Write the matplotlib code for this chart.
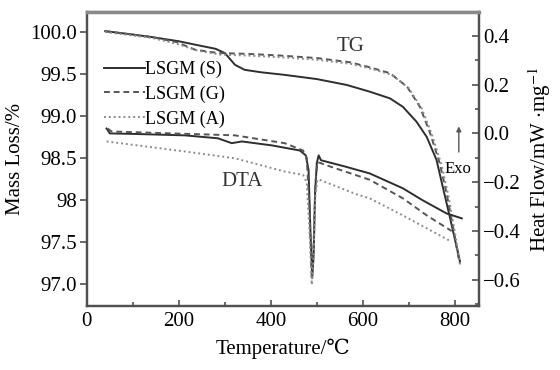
import numpy as np
import matplotlib
matplotlib.use('Agg')
import matplotlib.pyplot as plt

plt.rcParams['font.family'] = ['Liberation Serif', 'DejaVu Serif']
plt.rcParams['mathtext.fontset'] = 'stix'

# TG curves (left axis, mass %)
T_tg_S = [40, 100, 141, 200, 235, 280, 300, 322, 343, 380, 430, 500, 565, 615, 659, 687, 717, 739, 760, 774, 789, 811]
tg_S = [100.01, 99.97, 99.94, 99.89, 99.85, 99.80, 99.75, 99.61, 99.55, 99.52, 99.49, 99.44, 99.37, 99.29,
        99.21, 99.11, 98.93, 98.75, 98.48, 98.15, 97.80, 97.27]

T_tg_G = [40, 141, 195, 235, 285, 350, 420, 500, 572, 615, 659, 696, 724, 746, 767, 782, 796, 810]
tg_G = [100.01, 99.94, 99.88, 99.79, 99.75, 99.74, 99.72, 99.69, 99.64, 99.58, 99.51, 99.35, 99.11,
        98.80, 98.44, 98.08, 97.68, 97.25]

T_tg_A = [40, 141, 195, 240, 290, 350, 420, 500, 575, 620, 663, 700, 728, 750, 771, 786, 799, 812]
tg_A = [100.00, 99.93, 99.86, 99.78, 99.73, 99.72, 99.70, 99.67, 99.62, 99.56, 99.49, 99.33, 99.09,
        98.78, 98.42, 98.05, 97.65, 97.22]

# DTA curves (right axis, mW/mg)
T_dta_S = [43, 50, 100, 213, 285, 315, 337, 402, 463, 476, 482, 486, 490, 493, 496, 500, 504, 509, 560, 615, 687, 730, 782, 815]
dta_S = [0.02, 0.0, -0.002, -0.008, -0.02, -0.04, -0.033, -0.049, -0.07, -0.09, -0.15, -0.40, -0.59,
         -0.50, -0.25, -0.12, -0.09, -0.11, -0.135, -0.164, -0.225, -0.274, -0.328, -0.348]

T_dta_G = [45, 54, 185, 322, 430, 470, 478, 484, 489, 493, 497, 501, 506, 520, 615, 687, 739, 793]
dta_G = [0.02, 0.008, 0.0, -0.008, -0.04, -0.07, -0.10, -0.30, -0.60, -0.45, -0.20, -0.12, -0.12,
         -0.13, -0.19, -0.266, -0.336, -0.40]

T_dta_A = [43, 213, 322, 430, 470, 478, 484, 489, 493, 497, 501, 506, 587, 615, 687, 789]
dta_A = [-0.033, -0.074, -0.102, -0.156, -0.17, -0.20, -0.40, -0.62, -0.50, -0.25, -0.19, -0.19,
         -0.25, -0.266, -0.336, -0.44]

left_ticks = [97.0, 97.5, 98.0, 98.5, 99.0, 99.5, 100.0]
left_labels = ['97.0', '97.5', '98', '98.5', '99.0', '99.5', '100.0']
right_ticks = [-0.6, -0.4, -0.2, 0.0, 0.2, 0.4]
right_labels = ['\u22120.6', '\u22120.4', '\u22120.2', '0.0', '0.2', '0.4']

c_s, c_g, c_a = '#2e2e2e', '#555555', '#8c8c8c'
spine_c = '#505050'

fig = plt.figure(figsize=(5.6, 3.7), dpi=100)
ax = fig.add_axes([0.155, 0.173, 0.70, 0.795])
ax2 = ax.twinx()

ax.plot(T_tg_S, tg_S, color=c_s, lw=1.4, ls='-', label='LSGM (S)')
ax.plot(T_tg_G, tg_G, color=c_g, lw=1.4, ls=(0, (3, 2)), label='LSGM (G)')
ax.plot(T_tg_A, tg_A, color=c_a, lw=1.4, ls=(0, (1, 1.5)), label='LSGM (A)')

ax2.plot(T_dta_S, dta_S, color=c_s, lw=1.4, ls='-')
ax2.plot(T_dta_G, dta_G, color=c_g, lw=1.4, ls=(0, (3, 2)))
ax2.plot(T_dta_A, dta_A, color=c_a, lw=1.4, ls=(0, (1, 1.5)))

ax.set_xlim(0, 852)
ax.set_ylim(96.74, 100.24)
ax2.set_ylim(-0.707, 0.498)

ax.set_xticks([0, 200, 400, 600, 800])
ax.set_xticks([100, 300, 500, 700], minor=True)
ax.set_yticks(left_ticks)
ax.set_yticklabels(left_labels)
ax2.set_yticks(right_ticks)
ax2.set_yticklabels(right_labels)
ax2.set_yticks(np.arange(-0.7, 0.5, 0.1), minor=True)

ax.tick_params(axis='x', which='both', direction='in', length=4, width=1.2, color=spine_c, labelsize=15, pad=4)
ax.tick_params(axis='x', which='minor', length=3)
ax.tick_params(axis='y', direction='out', length=5, width=1.2, color=spine_c, labelsize=15, pad=2)
ax2.tick_params(axis='y', which='both', direction='in', length=5, width=1.2, color=spine_c, labelsize=15, pad=3)
ax2.tick_params(axis='y', which='minor', length=3)

for a in (ax, ax2):
    for s in a.spines.values():
        s.set_color(spine_c)
        s.set_linewidth(1.6)
ax2.spines['top'].set_linewidth(2.5)
ax2.spines['top'].set_color('#8a8a8a')

ax.set_xlabel('Temperature/\u2103', fontsize=15, labelpad=6)
ax.set_ylabel('Mass Loss/%', fontsize=15, labelpad=4)
ax2.set_ylabel('Heat Flow/mW $\\cdot$mg$^{-1}$', fontsize=15, labelpad=4)

ax.text(0.673, 0.881, 'TG', transform=ax.transAxes, fontsize=15, ha='center', va='center', color='#333333')
ax.text(0.395, 0.422, 'DTA', transform=ax.transAxes, fontsize=15, ha='center', va='center', color='#333333')
ax.text(0.946, 0.466, 'Exo', transform=ax.transAxes, fontsize=12, ha='center', va='center')
ax.annotate('', xy=(0.949, 0.62), xytext=(0.949, 0.514), xycoords='axes fraction',
            arrowprops=dict(arrowstyle='-|>', color='#555555', lw=1.0, mutation_scale=7))

ax.legend(loc='upper left', bbox_to_anchor=(0.02, 0.865), frameon=False, fontsize=13,
          handlelength=2.3, handletextpad=0.0, labelspacing=0.42, borderpad=0)

fig.savefig('out.png', dpi=100)
